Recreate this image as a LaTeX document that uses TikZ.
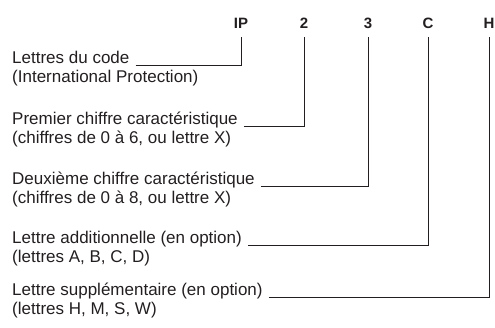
\documentclass[tikz,border=0pt]{standalone}
\usepackage{fontspec}
\setmainfont{Liberation Sans}
\definecolor{ink}{HTML}{231F20}
\begin{document}
\begin{tikzpicture}[x=1pt,y=-1pt,
  code/.style={inner sep=0pt,font=\fontsize{15}{17}\selectfont\bfseries,text=ink,anchor=base},
  lbl/.style={inner sep=0pt,font=\fontsize{17}{19}\selectfont,text=ink,anchor=base west},
  leader/.style={draw=ink,line width=0.9pt}]
\useasboundingbox (0,0) rectangle (495,327);
% code letters
\node[code] (ip) at (241,28) {IP};
\node[code] (c2) at (304,28) {2};
\node[code] (c3) at (368,28) {3};
\node[code] (cC) at (428,28) {C};
\node[code] (cH) at (489,28) {H};
% descriptions
\node[lbl] (l1) at (12,63) {Lettres du code};
\node[lbl] (s1) at (12,82) {(International Protection)};
\node[lbl] (l2) at (12,124) {Premier chiffre caractéristique};
\node[lbl] (s2) at (12,143) {(chiffres de 0 à 6, ou lettre X)};
\node[lbl] (l3) at (12,184) {Deuxième chiffre caractéristique};
\node[lbl] (s3) at (12,203) {(chiffres de 0 à 8, ou lettre X)};
\node[lbl] (l4) at (12,243) {Lettre additionnelle (en option)};
\node[lbl] (s4) at (12,262) {(lettres A, B, C, D)};
\node[lbl] (l5) at (12,295) {Lettre supplémentaire (en option)};
\node[lbl] (s5) at (12,314) {(lettres H, M, S, W)};
% leaders
\draw[leader] ([shift={(6,2)}]l1.base east) -| ([yshift=-9]ip.base);
\draw[leader] ([shift={(6,2)}]l2.base east) -| ([yshift=-9]c2.base);
\draw[leader] ([shift={(6,2)}]l3.base east) -| ([yshift=-9]c3.base);
\draw[leader] ([shift={(6,2)}]l4.base east) -| ([yshift=-9]cC.base);
\draw[leader] ([shift={(6,2)}]l5.base east) -| ([yshift=-9]cH.base);
\end{tikzpicture}
\end{document}
